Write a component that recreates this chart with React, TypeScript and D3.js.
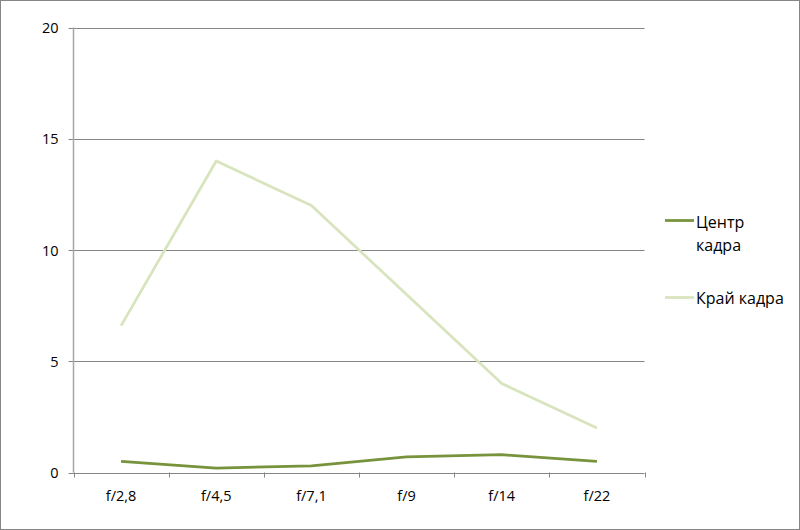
import React from "react";
import * as d3 from "d3";

const categories = ["f/2,8", "f/4,5", "f/7,1", "f/9", "f/14", "f/22"];
const centerValues = [0.5, 0.2, 0.3, 0.7, 0.8, 0.5];
const edgeValues = [6.6, 14, 12, 8, 4, 2];
const yTicks = [0, 5, 10, 15, 20];
const seriesNames = ["Центр кадра", "Край кадра"];

const W = 800;
const H = 530;
const left = 73.5;
const right = 644.5;
const top = 27.5;
const bottom = 472.5;
const font = "Open Sans, Noto Sans, sans-serif";

export default function App() {
  const x = d3.scaleBand().domain(categories).range([left, right]);
  const y = d3.scaleLinear().domain([0, 20]).range([bottom, top]);
  const line = d3
    .line<number>()
    .x((_, i) => (x(categories[i]) as number) + x.bandwidth() / 2)
    .y((d) => y(d));
  const bounds = [...categories.map((c) => x(c) as number), right];

  return (
    <svg width={W} height={H} style={{ position: "absolute", left: 0, top: 0 }}>
      <rect x={0.5} y={0.5} width={W - 1} height={H - 1} fill="#fff" stroke="#868686" />
      {yTicks.map((t) => (
        <g key={t}>
          <line x1={left - 5} x2={right} y1={Math.round(y(t)) + 0.5} y2={Math.round(y(t)) + 0.5} stroke="#868686" />
          <text x={left - 15} y={y(t) + 5.5} textAnchor="end" fontFamily={font} fontSize={14.5} fill="#000">
            {t}
          </text>
        </g>
      ))}
      <line x1={left} x2={left} y1={top} y2={bottom} stroke="#a6a6a6" strokeWidth={1.5} />
      {bounds.map((b, i) => (
        <line key={i} x1={Math.round(b) + 0.5} x2={Math.round(b) + 0.5} y1={bottom} y2={bottom + 5} stroke="#868686" />
      ))}
      {categories.map((c) => (
        <text key={c} x={(x(c) as number) + x.bandwidth() / 2} y={bottom + 28.5} textAnchor="middle" fontFamily={font} fontSize={14.5} fill="#000">
          {c}
        </text>
      ))}
      <path d={line(edgeValues) as string} fill="none" stroke="#d7e4bd" strokeWidth={2.75} strokeLinejoin="round" />
      <path d={line(centerValues) as string} fill="none" stroke="#77933c" strokeWidth={2.75} strokeLinejoin="round" />
      <line x1={665} x2={694} y1={220.5} y2={220.5} stroke="#77933c" strokeWidth={2.75} />
      <text x={696} y={228} fontFamily={font} fontSize={16} fill="#000">
        {seriesNames[0].split(" ")[0]}
      </text>
      <text x={696} y={251} fontFamily={font} fontSize={16} fill="#000">
        {seriesNames[0].split(" ")[1]}
      </text>
      <line x1={665} x2={694} y1={297.5} y2={297.5} stroke="#d7e4bd" strokeWidth={2.75} />
      <text x={696} y={304} fontFamily={font} fontSize={16} fill="#000">
        {seriesNames[1]}
      </text>
    </svg>
  );
}
